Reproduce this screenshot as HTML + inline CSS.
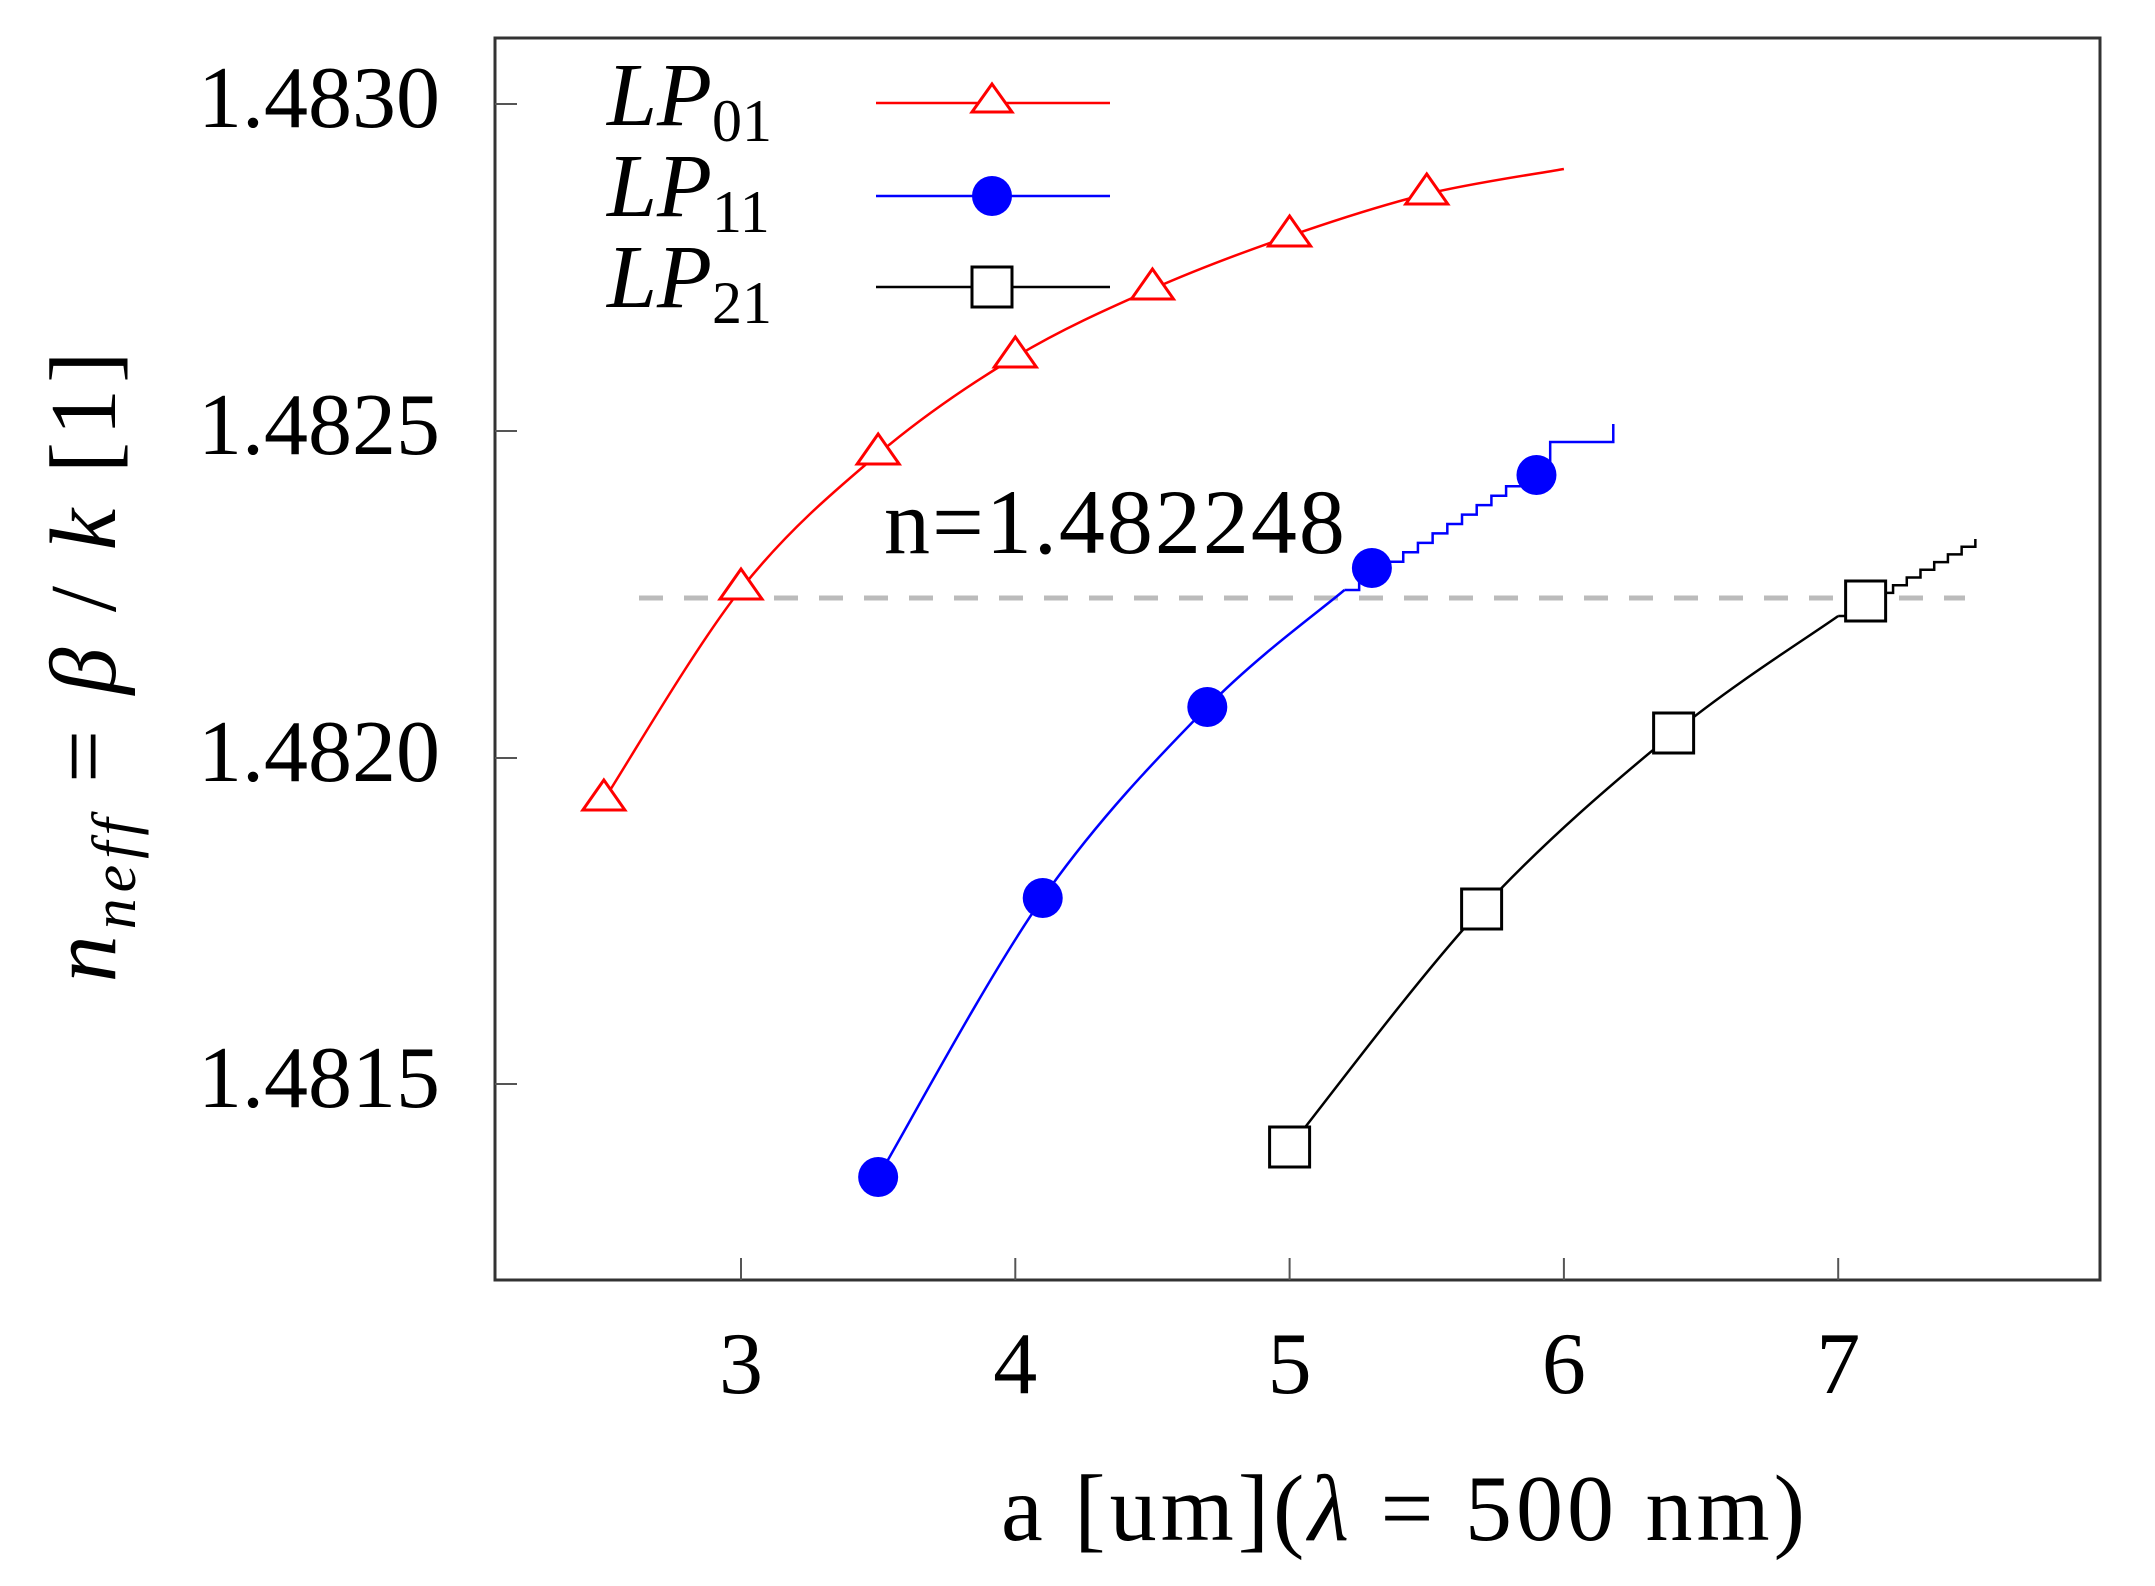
<!DOCTYPE html>
<html><head><meta charset="utf-8"><style>
html,body{margin:0;padding:0;background:#fff}
svg{display:block}
text{font-family:"Liberation Serif",serif;fill:#000}
</style></head><body>
<svg id="s" width="2155" height="1586" viewBox="0 0 2155 1586" xmlns="http://www.w3.org/2000/svg">
<rect x="0" y="0" width="2155" height="1586" fill="#fff"/>
<rect x="495" y="38" width="1605" height="1242" fill="none" stroke="#333" stroke-width="3"/>
<g stroke="#555" stroke-width="2">
<line x1="495" y1="104" x2="517" y2="104"/>
<line x1="495" y1="431" x2="517" y2="431"/>
<line x1="495" y1="758" x2="517" y2="758"/>
<line x1="495" y1="1084" x2="517" y2="1084"/>
<line x1="741" y1="1280" x2="741" y2="1258"/>
<line x1="1015.3" y1="1280" x2="1015.3" y2="1258"/>
<line x1="1289.6" y1="1280" x2="1289.6" y2="1258"/>
<line x1="1563.9" y1="1280" x2="1563.9" y2="1258"/>
<line x1="1838.2" y1="1280" x2="1838.2" y2="1258"/>
</g>
<g font-size="88" text-anchor="end">
<text x="440" y="127">1.4830</text>
<text x="440" y="454">1.4825</text>
<text x="440" y="781">1.4820</text>
<text x="440" y="1107">1.4815</text>
</g>
<g font-size="88" text-anchor="middle">
<text x="741" y="1393">3</text>
<text x="1015.3" y="1393">4</text>
<text x="1289.6" y="1393">5</text>
<text x="1563.9" y="1393">6</text>
<text x="1838.2" y="1393">7</text>
<text x="1405" y="1540" font-size="94" letter-spacing="4">a [um](<tspan font-style="italic">λ</tspan> = 500 nm)</text>
</g>
<text transform="translate(115,664) rotate(-90)" font-size="94" letter-spacing="6" text-anchor="middle"><tspan font-style="italic">n</tspan><tspan font-size="62" font-style="italic" dy="20">neff</tspan><tspan dy="-20"> = </tspan><tspan font-style="italic">β</tspan> / <tspan font-style="italic">k</tspan>  [1]</text>
<line x1="639" y1="598" x2="1965" y2="598" stroke="#bbb" stroke-width="5" stroke-dasharray="24,21"/>
<text x="884" y="553" font-size="92" letter-spacing="2">n=1.482248</text>
<g id="curves"></g>
<g font-size="90" font-style="italic">
<text x="607" y="125">LP<tspan font-size="60" font-style="normal" dy="16">01</tspan></text>
<text x="607" y="216">LP<tspan font-size="60" font-style="normal" dy="16">11</tspan></text>
<text x="607" y="307">LP<tspan font-size="60" font-style="normal" dy="16">21</tspan></text>
</g>
<line x1="876" y1="103" x2="1110" y2="103" stroke="#f00" stroke-width="2.5"/>
<line x1="876" y1="196" x2="1110" y2="196" stroke="#00f" stroke-width="2.5"/>
<line x1="876" y1="287" x2="1110" y2="287" stroke="#000" stroke-width="2.5"/>
<polygon points="992,84 1012,112 972,112" fill="#fff" stroke="#f00" stroke-width="3"/>
<circle cx="992" cy="196" r="20" fill="#00f"/>
<rect x="972" y="267" width="40" height="40" fill="#fff" stroke="#000" stroke-width="3"/>
</svg>
<script>
function X(a){return 741+274.3*(a-3);}
function cr(pts){
  var d="M"+pts[0][0]+","+pts[0][1];
  for(var i=0;i<pts.length-1;i++){
    var p0=pts[Math.max(i-1,0)],p1=pts[i],p2=pts[i+1],p3=pts[Math.min(i+2,pts.length-1)];
    var c1x=p1[0]+(p2[0]-p0[0])/6,c1y=p1[1]+(p2[1]-p0[1])/6;
    var c2x=p2[0]-(p3[0]-p1[0])/6,c2y=p2[1]-(p3[1]-p1[1])/6;
    d+=" C"+c1x+","+c1y+" "+c2x+","+c2y+" "+p2[0]+","+p2[1];
  }
  return d;
}
var g=document.getElementById("curves");
var NS="http://www.w3.org/2000/svg";
function path(d,c){var p=document.createElementNS(NS,"path");p.setAttribute("d",d);p.setAttribute("fill","none");p.setAttribute("stroke",c);p.setAttribute("stroke-width","2.5");g.appendChild(p);}
function stairs(x0,y0,x1,y1,n,c){var d="M"+x0+","+y0;for(var i=1;i<=n;i++){var x=x0+(x1-x0)*i/n,y=y0+(y1-y0)*i/n;d+=" L"+x+","+(y-(y1-y0)/n*0)+" L"+x+","+y;}
 var dd="M"+x0+","+y0;var yy=y0;for(var i=1;i<=n;i++){var x=x0+(x1-x0)*i/n;dd+=" L"+x+","+yy;yy=y0+(y1-y0)*i/n;dd+=" L"+x+","+yy;}path(dd,c);}
var lp01=[[2.5,800],[3,589],[3.5,454],[4,357],[4.5,289],[5,236],[5.5,194],[6,169]].map(function(p){return [X(p[0]),p[1]];});
var lp11=[[3.5,1177],[4.1,898],[4.7,707],[5.2,590]].map(function(p){return [X(p[0]),p[1]];});
var lp21=[[5,1147],[5.7,909],[6.4,733],[7.0,616]].map(function(p){return [X(p[0]),p[1]];});
path(cr(lp01),"#f00");path(cr(lp11),"#00f");path(cr(lp21),"#000");
stairs(X(5.2),590,X(5.95),458,14,"#00f");
path("M"+X(5.95)+",458 L"+X(5.95)+",442 L"+X(6.18)+",442 L"+X(6.18)+",424","#00f");
stairs(X(7.0),616,X(7.5),539,10,"#000");
var m01=[[2.5,800],[3,589],[3.5,454],[4,357],[4.5,289],[5,236],[5.5,194]];
m01.forEach(function(q){var p=[X(q[0]),q[1]];var t=document.createElementNS(NS,"polygon");t.setAttribute("points",p[0]+","+(p[1]-20)+" "+(p[0]+21)+","+(p[1]+10)+" "+(p[0]-21)+","+(p[1]+10));t.setAttribute("fill","#fff");t.setAttribute("stroke","#f00");t.setAttribute("stroke-width","3");g.appendChild(t);});
[[3.5,1177],[4.1,898],[4.7,707],[5.3,568],[5.9,475]].forEach(function(q){var c=document.createElementNS(NS,"circle");c.setAttribute("cx",X(q[0]));c.setAttribute("cy",q[1]);c.setAttribute("r","20");c.setAttribute("fill","#00f");g.appendChild(c);});
[[5,1147],[5.7,909],[6.4,733],[7.1,601]].forEach(function(q){var r=document.createElementNS(NS,"rect");r.setAttribute("x",X(q[0])-20);r.setAttribute("y",q[1]-20);r.setAttribute("width","40");r.setAttribute("height","40");r.setAttribute("fill","#fff");r.setAttribute("stroke","#000");r.setAttribute("stroke-width","3");g.appendChild(r);});
</script>
</body></html>
